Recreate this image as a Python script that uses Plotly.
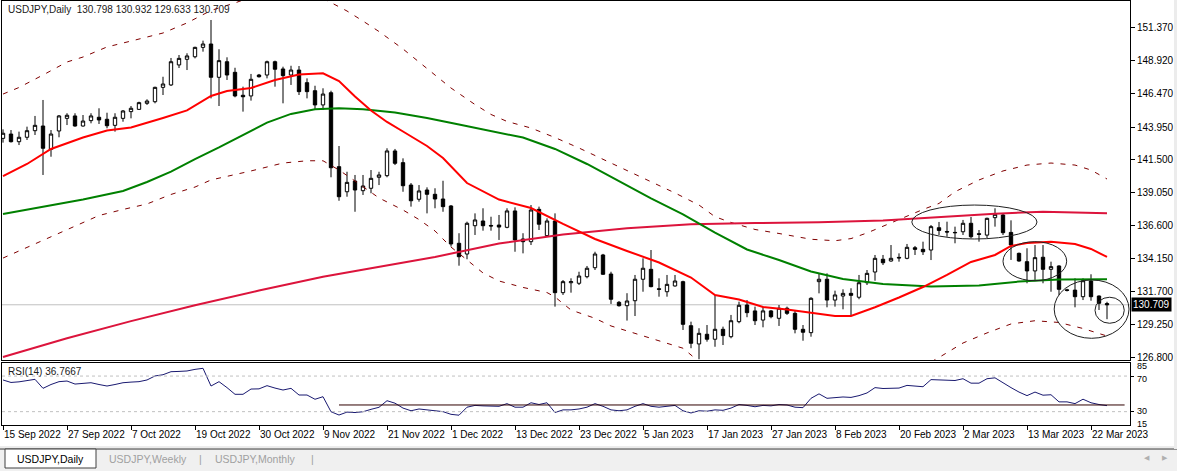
import plotly.graph_objects as go

# ---------------- data ----------------
tick_idx = [0, 8, 16, 24, 32, 40, 48, 56, 64, 72, 80, 88, 96, 104, 112, 120, 128, 136]
tick_labels = ["15 Sep 2022", "27 Sep 2022", "7 Oct 2022", "19 Oct 2022", "30 Oct 2022",
               "9 Nov 2022", "21 Nov 2022", "1 Dec 2022", "13 Dec 2022", "23 Dec 2022",
               "5 Jan 2023", "17 Jan 2023", "27 Jan 2023", "8 Feb 2023", "20 Feb 2023",
               "2 Mar 2023", "13 Mar 2023", "22 Mar 2023"]

opens = [143.11, 143.43, 142.86, 143.19, 143.68, 144.03, 142.29, 143.66, 144.60, 144.78,
         144.03, 144.43, 144.68, 144.53, 144.08, 144.60, 145.10, 145.27, 145.72, 145.84,
         146.91, 147.09, 148.58, 149.00, 149.19, 149.89, 150.14, 147.66, 148.82, 148.03,
         146.32, 146.27, 147.83, 147.83, 148.82, 148.28, 147.83, 148.20, 147.26, 146.66,
         145.60, 146.51, 141.00, 139.13, 139.93, 139.21, 139.39, 140.21, 140.33, 142.17,
         141.30, 139.63, 138.57, 139.26, 138.94, 138.59, 138.07, 135.29, 134.49, 136.60,
         136.95, 136.62, 136.65, 136.48, 137.70, 135.61, 135.41, 137.82, 135.86, 136.95,
         131.61, 132.35, 132.31, 132.80, 133.47, 134.42, 133.00, 130.89, 130.64, 131.01,
         132.61, 133.35, 131.90, 131.68, 132.11, 132.43, 129.15, 127.79, 128.51, 128.14,
         128.88, 128.33, 129.45, 130.69, 130.25, 129.57, 130.25, 129.70, 130.45, 130.07,
         128.88, 128.63, 132.43, 132.61, 131.06, 131.36, 131.56, 131.27, 132.35, 133.15,
         134.10, 133.97, 134.24, 134.17, 134.96, 134.84, 134.79, 136.45, 136.17, 136.10,
         136.15, 136.78, 136.00, 135.90, 137.20, 137.40, 136.10, 134.54, 133.92, 133.23,
         134.25, 133.35, 133.60, 131.82, 131.80, 131.31, 132.48, 131.36, 130.798]
highs = [143.78, 143.73, 143.61, 143.98, 144.78, 145.97, 143.73, 144.85, 144.98, 144.98,
         144.85, 144.98, 145.35, 145.02, 144.98, 145.22, 145.52, 145.84, 146.02, 146.96,
         147.70, 149.10, 149.32, 149.45, 149.94, 150.39, 151.93, 149.75, 149.15, 148.37,
         146.96, 147.91, 147.91, 148.90, 148.90, 148.45, 148.52, 148.50, 147.58, 147.03,
         146.84, 146.66, 142.54, 140.62, 140.38, 140.38, 140.75, 140.62, 142.37, 142.32,
         141.62, 139.78, 139.63, 139.46, 139.39, 139.95, 138.14, 136.04, 136.90, 137.52,
         137.90, 137.27, 137.40, 137.90, 137.97, 136.04, 138.14, 138.02, 137.15, 137.52,
         132.55, 132.68, 133.17, 133.60, 134.66, 134.50, 133.17, 130.99, 131.57, 132.93,
         134.17, 134.79, 132.68, 132.93, 132.93, 132.50, 129.45, 128.96, 129.20, 131.44,
         129.08, 129.95, 130.94, 131.06, 130.57, 130.57, 130.32, 130.69, 130.57, 130.27,
         129.20, 131.27, 133.00, 133.05, 131.76, 131.86, 131.94, 132.93, 133.30, 134.42,
         134.42, 135.16, 134.54, 135.24, 135.09, 135.41, 136.65, 136.88, 136.90, 136.53,
         137.03, 137.25, 136.28, 137.20, 137.90, 137.55, 137.00, 134.60, 134.92, 135.16,
         135.16, 133.92, 133.65, 131.90, 132.68, 132.68, 132.98, 131.40, 130.932]
lows = [142.79, 142.80, 142.61, 142.99, 143.36, 140.38, 141.74, 143.19, 144.10, 143.98,
        143.98, 144.23, 144.18, 143.86, 143.61, 144.35, 144.60, 145.22, 145.60, 145.72,
        146.34, 147.01, 148.35, 148.20, 149.07, 149.57, 146.09, 145.52, 147.46, 146.17,
        145.10, 145.92, 147.64, 147.58, 146.96, 145.72, 147.09, 146.34, 146.09, 145.22,
        145.22, 140.21, 138.46, 138.76, 137.64, 138.89, 139.02, 139.63, 140.21, 141.12,
        139.13, 138.02, 138.39, 137.52, 137.90, 137.64, 135.04, 133.62, 134.10, 135.91,
        136.23, 136.23, 135.54, 136.41, 134.66, 134.54, 135.16, 136.28, 135.78, 130.57,
        131.44, 131.61, 132.18, 132.68, 133.30, 132.93, 130.77, 130.57, 129.53, 129.87,
        131.68, 132.01, 131.31, 131.31, 132.06, 128.83, 127.47, 126.65, 127.96, 127.58,
        127.71, 128.21, 129.33, 129.78, 129.20, 129.03, 129.70, 129.13, 129.95, 128.58,
        128.03, 128.33, 131.56, 130.52, 130.57, 130.37, 129.87, 131.12, 132.18, 132.50,
        133.67, 133.92, 133.92, 134.10, 134.42, 134.42, 134.04, 135.91, 135.78, 135.29,
        135.91, 135.66, 135.41, 135.66, 136.53, 135.91, 134.05, 133.92, 132.31, 132.56,
        132.31, 131.68, 131.44, 131.70, 130.52, 131.06, 131.01, 130.32, 129.633]
closes = [143.49, 142.86, 143.19, 143.68, 144.08, 142.37, 143.43, 144.78, 144.83, 144.03,
          144.40, 144.78, 144.48, 144.05, 144.68, 145.15, 145.35, 145.77, 145.89, 146.91,
          147.16, 148.82, 149.07, 149.25, 149.89, 150.14, 147.66, 148.90, 147.83, 146.27,
          146.21, 147.51, 147.70, 148.82, 148.26, 147.78, 148.20, 146.59, 146.59, 145.60,
          146.41, 140.92, 138.76, 139.83, 139.26, 139.56, 140.13, 140.38, 142.17, 141.25,
          139.58, 138.46, 139.19, 138.94, 138.59, 138.02, 135.24, 134.29, 136.78, 137.03,
          136.60, 136.58, 136.50, 137.70, 135.54, 135.41, 137.77, 136.71, 136.95, 131.61,
          132.43, 132.43, 132.85, 133.43, 134.49, 132.98, 131.12, 130.64, 130.99, 132.61,
          133.43, 132.06, 131.86, 132.23, 132.48, 129.25, 127.84, 128.58, 128.14, 128.88,
          128.41, 129.52, 130.67, 130.12, 129.52, 130.25, 129.82, 130.45, 130.07, 128.88,
          128.66, 131.19, 132.61, 131.06, 131.44, 131.56, 131.41, 132.35, 133.05, 134.17,
          133.84, 134.17, 134.20, 134.99, 134.84, 134.66, 136.53, 136.25, 136.13, 136.08,
          136.78, 135.78, 135.96, 137.15, 137.45, 136.08, 135.16, 133.97, 133.23, 134.22,
          133.35, 133.55, 131.86, 131.78, 131.31, 132.50, 131.31, 130.82, 130.709]

# moving averages / bands read at sample bars
red_idx = [0, 3, 6, 10, 13, 16, 20, 23, 26, 28, 31, 34, 37, 40, 42, 44, 46, 48, 50, 53, 55, 58,
           62, 66, 70, 74, 78, 82, 86, 89, 92, 95, 98, 101, 104, 106, 109, 112, 115, 118, 121,
           124, 126, 128, 131, 134, 136, 138]
red_val = [140.30, 141.20, 142.32, 143.17, 143.69, 143.92, 144.63, 145.19, 146.27, 146.64, 146.86,
           147.46, 147.87, 147.96, 147.38, 146.23, 145.19, 144.33, 143.62, 142.54, 141.65, 139.78,
           138.55, 137.92, 136.73, 135.61, 134.72, 133.86, 132.74, 131.44, 131.10, 130.54, 130.36,
           130.10, 129.87, 129.87, 130.52, 131.25, 132.03, 132.93, 133.90, 134.42, 135.09, 135.31,
           135.41, 135.24, 134.87, 134.27]

green_idx = [0, 5, 10, 15, 18, 21, 24, 27, 30, 33, 36, 39, 42, 45, 49, 53, 57, 61, 65, 69, 73, 77,
             81, 85, 89, 93, 97, 101, 105, 110, 116, 122, 127, 132, 138]
green_val = [137.47, 138.03, 138.55, 139.19, 139.86, 140.63, 141.57, 142.44, 143.36, 144.28, 144.93,
             145.27, 145.35, 145.27, 145.04, 144.63, 144.14, 143.66, 143.17, 142.32, 141.20, 139.93,
             138.63, 137.44, 136.09, 134.83, 134.04, 133.19, 132.63, 132.26, 132.07, 132.14, 132.44,
             132.59, 132.61]

ma200_idx = [0, 8, 16, 24, 32, 40, 46, 54, 62, 70, 78, 86, 94, 102, 110, 118, 124, 130, 138]
ma200_val = [126.82, 128.22, 129.49, 130.67, 131.77, 132.80, 133.43, 134.27, 135.27, 135.95, 136.41,
             136.71, 136.80, 136.85, 136.99, 137.26, 137.50, 137.64, 137.52]

bb_up_idx = [0, 2, 5, 8, 10, 13, 16, 20, 23, 26, 29, 30, 35, 40, 41, 43, 45, 47, 50, 53, 56, 59, 61,
             63, 66, 69, 72, 76, 80, 84, 87, 89, 91, 94, 97, 101, 104, 106, 108, 110, 112, 115, 117,
             119, 122, 125, 128, 131, 134, 136, 138]
bb_up_val = [146.41, 146.90, 147.83, 148.80, 149.17, 149.92, 150.36, 150.96, 151.71, 152.64, 153.20,
             153.42, None, 153.54, 153.23, 152.60, 151.85, 151.07, 149.77, 148.35, 146.86, 145.63,
             144.89, 144.37, 143.88, 143.17, 142.39, 141.27, 140.16, 139.04, 138.14, 137.27, 136.84,
             136.32, 136.02, 135.59, 135.48, 135.64, 136.06, 136.58, 137.06, 137.81, 138.26, 139.13,
             140.01, 140.68, 141.12, 141.27, 141.12, 140.75, 140.08]

bb_lo_idx = [0, 2, 5, 8, 12, 15, 18, 21, 24, 26, 29, 31, 35, 38, 40, 42, 44, 47, 50, 52, 54, 56, 58,
             60, 62, 65, 68, 69, 71, 74, 76, 79, 81, 83, 85, 86, 87, 100, 116, 117, 120, 123, 126,
             129, 132, 135, 138]
bb_lo_val = [134.19, 134.72, 135.54, 136.28, 137.36, 137.81, 138.22, 138.93, 139.48, 140.01, 140.38,
             140.68, 141.27, 141.44, 141.44, 140.75, 139.93, 138.67, 137.77, 137.06, 136.21, 135.01,
             134.05, 133.08, 132.48, 132.00, 131.62, 131.29, 130.32, 129.70, 129.13, 128.58, 128.21,
             127.86, 127.47, 126.97, 126.45, None, 126.45, 126.78, 127.86, 128.61, 129.28, 129.52,
             129.39, 128.94, 128.38]

rsi = [65.6, 62.8, 63.5, 64.8, 66.3, 56.2, 60.5, 63.7, 64.4, 61.0,
       61.8, 62.5, 60.5, 58.8, 60.5, 62.5, 63.2, 63.7, 65.6, 70.1,
       71.5, 74.9, 75.2, 75.7, 77.5, 78.7, 58.8, 63.7, 57.0, 49.5,
       49.5, 55.4, 55.6, 59.2, 56.5, 54.3, 56.2, 48.7, 48.7, 43.9,
       46.8, 29.9, 26.2, 29.5, 29.0, 29.9, 32.6, 34.9, 42.3, 39.5,
       34.0, 31.0, 33.0, 32.0, 31.0, 30.0, 27.0, 26.0, 35.0, 37.0,
       36.5, 36.5, 36.0, 39.0, 35.0, 35.0, 40.0, 38.0, 40.0, 29.0,
       32.0, 32.0, 33.0, 35.0, 39.0, 36.0, 32.0, 31.0, 32.0, 36.0,
       39.0, 36.0, 35.0, 36.0, 37.0, 31.0, 28.5, 31.0, 30.5, 32.0,
       31.5, 34.0, 38.0, 37.0, 35.5, 37.0, 36.5, 38.0, 37.5, 35.0,
       34.5, 45.0, 50.0, 45.0, 46.0, 46.5, 46.0, 48.0, 51.0, 57.0,
       56.0, 56.5, 56.5, 59.5, 59.0, 58.0, 66.0, 65.5, 65.0, 65.0,
       67.0, 62.0, 62.0, 67.0, 68.0, 62.0, 57.0, 52.0, 48.0, 52.0,
       48.5, 49.0, 41.0, 41.0, 39.0, 44.0, 40.0, 38.0, 36.7667]
rsi_levels = [70, 30]
rsi_scale_labels = [85, 70, 30, 15]
rsi_drawn_level = 37.5
rsi_drawn_span = [42, 140.2]

price_ticks = [151.370, 148.920, 146.470, 143.950, 141.500, 139.050, 136.600, 134.150,
               131.700, 129.250, 126.800]

# hand-drawn ellipses (bar index / price)
ell_x0 = [113.6, 125.0, 131.4, 136.5]
ell_x1 = [129.25, 132.96, 140.75, 140.16]
ell_y0 = [135.61, 132.50, 128.21, 129.33]
ell_y1 = [138.14, 135.41, 132.56, 131.27]

bars = list(range(len(closes)))

# ---------------- figure ----------------
FONT = "Liberation Sans, Arial, sans-serif"
FS = 10
fig = go.Figure()

fig.add_trace(go.Candlestick(
    x=bars, open=opens, high=highs, low=lows, close=closes,
    increasing=dict(line=dict(color="black", width=1), fillcolor="white"),
    decreasing=dict(line=dict(color="black", width=1), fillcolor="black"),
    whiskerwidth=0, xaxis="x", yaxis="y", hoverinfo="skip"))

dash_style = dict(color="#800000", width=1, dash="5px,7px")
fig.add_trace(go.Scatter(x=bb_up_idx, y=bb_up_val, mode="lines", line=dash_style,
                         connectgaps=False, hoverinfo="skip"))
fig.add_trace(go.Scatter(x=bb_lo_idx, y=bb_lo_val, mode="lines", line=dash_style,
                         connectgaps=False, hoverinfo="skip"))
fig.add_trace(go.Scatter(x=ma200_idx, y=ma200_val, mode="lines",
                         line=dict(color="#dc143c", width=2), hoverinfo="skip"))
fig.add_trace(go.Scatter(x=green_idx, y=green_val, mode="lines",
                         line=dict(color="#008000", width=2), hoverinfo="skip"))
fig.add_trace(go.Scatter(x=red_idx, y=red_val, mode="lines",
                         line=dict(color="#ff0000", width=2), hoverinfo="skip"))

fig.add_trace(go.Scatter(x=bars, y=rsi, mode="lines", line=dict(color="#191970", width=1),
                         xaxis="x2", yaxis="y2", hoverinfo="skip"))

shapes = []
for lv in rsi_levels:
    shapes.append(dict(type="line", xref="paper", x0=0, x1=1, yref="y2", y0=lv, y1=lv,
                       line=dict(color="#c0c0c0", width=1, dash="3px,3px")))
shapes.append(dict(type="line", xref="x2", x0=rsi_drawn_span[0], x1=rsi_drawn_span[1],
                   yref="y2", y0=rsi_drawn_level, y1=rsi_drawn_level,
                   line=dict(color="#300000", width=1)))
shapes.append(dict(type="line", xref="paper", x0=0, x1=1, yref="y", y0=closes[-1], y1=closes[-1],
                   line=dict(color="#c0c0c0", width=1), layer="below"))
for a, b, c, d in zip(ell_x0, ell_x1, ell_y0, ell_y1):
    shapes.append(dict(type="circle", xref="x", yref="y", x0=a, x1=b, y0=c, y1=d,
                       line=dict(color="#202020", width=1)))


def px(xp):
    return (xp - 2) / 1128.0


def py(yp):
    return (425 - yp) / 424.0


# bottom tab strip
shapes.append(dict(type="rect", xref="paper", yref="paper", x0=px(0), x1=px(1177),
                   y0=py(449), y1=py(472), fillcolor="#f0f0f0", line=dict(width=0)))
shapes.append(dict(type="line", xref="paper", yref="paper", x0=px(0), x1=px(1177),
                   y0=py(447), y1=py(447), line=dict(color="#d8d8d8", width=1)))
shapes.append(dict(type="line", xref="paper", yref="paper", x0=px(0), x1=px(1177),
                   y0=py(449), y1=py(449), line=dict(color="#303030", width=1)))
shapes.append(dict(type="rect", xref="paper", yref="paper", x0=px(5), x1=px(96),
                   y0=py(449), y1=py(468), fillcolor="white", line=dict(color="#404040", width=1)))
shapes.append(dict(type="rect", xref="paper", yref="paper", x0=px(1174), x1=px(1178),
                   y0=py(-2), y1=py(449), fillcolor="#ececec", line=dict(width=0)))

ann = []
ann.append(dict(xref="paper", yref="paper", x=px(6), y=py(9.7), xanchor="left", yanchor="middle",
                showarrow=False,
                text="USDJPY,Daily\u00a0\u00a0%.3f %.3f %.3f %.3f" % (opens[-1], highs[-1], lows[-1], closes[-1]),
                font=dict(family=FONT, size=FS, color="#202020")))
ann.append(dict(xref="paper", yref="paper", x=px(6), y=py(371.5), xanchor="left", yanchor="middle",
                showarrow=False, text="RSI(14) %.4f" % rsi[-1],
                font=dict(family=FONT, size=FS, color="#202020")))
ann.append(dict(xref="paper", yref="y", x=px(1131), y=closes[-1], xanchor="left", yanchor="middle",
                showarrow=False, text="%.3f" % closes[-1], bgcolor="black", borderpad=1,
                font=dict(family=FONT, size=FS, color="white")))
# RSI scale labels (stacked like the terminal does, kept slightly apart)
for v, ypix in zip(rsi_scale_labels, [365.5, 378.5, 410.5, 423.5]):
    ann.append(dict(xref="paper", yref="paper", x=px(1135), y=py(ypix), xanchor="left",
                    yanchor="middle", showarrow=False, text=str(v),
                    font=dict(family=FONT, size=9, color="black")))
TABF = "Liberation Sans, DejaVu Sans, sans-serif"
for cx, t, col in [(50.5, "USDJPY,Daily", "#000000"), (147.5, "USDJPY,Weekly", "#a0a0a0"),
                   (200.7, "|", "#a0a0a0"), (255, "USDJPY,Monthly", "#a0a0a0"), (312, "|", "#a0a0a0")]:
    ann.append(dict(xref="paper", yref="paper", x=px(cx), y=py(459), xanchor="center",
                    yanchor="middle", showarrow=False, text=t,
                    font=dict(family=TABF, size=10.5, color=col)))
for cx, t in [(1147, "\u25c0"), (1165, "\u25b6")]:
    ann.append(dict(xref="paper", yref="paper", x=px(cx), y=py(458), xanchor="center",
                    yanchor="middle", showarrow=False, text=t,
                    font=dict(family="DejaVu Sans", size=7, color="#b0b0b0")))

xr = [-0.125, 140.875]
axis_common = dict(showgrid=False, zeroline=False, showline=True, mirror=True,
                   linecolor="black", linewidth=1, fixedrange=True)
fig.update_layout(
    width=1177, height=471, margin=dict(l=2, r=47, t=1, b=46),
    paper_bgcolor="white", plot_bgcolor="white", showlegend=False, boxgap=0.4,
    font=dict(family=FONT, size=FS, color="black"),
    xaxis=dict(domain=[0, 1], anchor="y", range=xr, showticklabels=False, ticks="",
               rangeslider=dict(visible=False), **axis_common),
    yaxis=dict(domain=[py(360), 1], anchor="x", range=[126.593, 153.345], side="right",
               tickvals=price_ticks, ticktext=["%.3f" % v for v in price_ticks],
               ticks="outside", ticklen=4, tickcolor="black",
               tickfont=dict(family=FONT, size=FS, color="black"), **axis_common),
    xaxis2=dict(domain=[0, 1], anchor="y2", range=xr, matches="x",
                tickvals=tick_idx, ticktext=tick_labels, ticks="outside", ticklen=4,
                tickcolor="black", ticklabelposition="outside right", tickangle=0,
                tickfont=dict(family=FONT, size=FS, color="black"), **axis_common),
    yaxis2=dict(domain=[0, py(362.7)], anchor="x2", range=[15, 85], side="right",
                tickvals=rsi_levels, ticktext=["", ""], showticklabels=False,
                ticks="outside", ticklen=3, tickcolor="black", **axis_common),
    shapes=shapes, annotations=ann,
)

fig.write_html("out.html", config={"displayModeBar": False, "staticPlot": True})
